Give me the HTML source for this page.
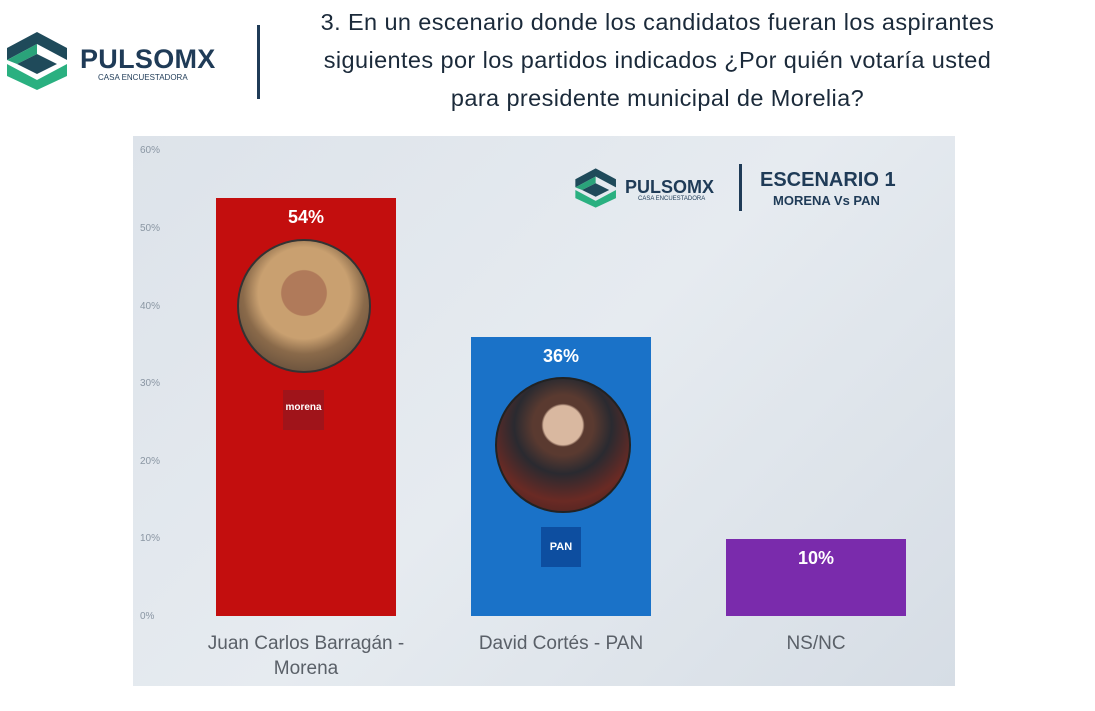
<!DOCTYPE html>
<html><head><meta charset="utf-8"><style>
body{margin:0;width:1095px;height:711px;background:#fff;position:relative;overflow:hidden;font-family:"Liberation Sans",sans-serif}
.a{position:absolute}
.t{color:#1b2a3a;font-size:23.5px;letter-spacing:0.4px;text-align:center;left:250px;width:815px;line-height:38px;top:3px}
.yl{font-size:10px;color:#8a96a3;left:140px}
.xl{font-size:19px;color:#5a6068;text-align:center;line-height:25px}
.pct{color:#fff;font-weight:bold;font-size:18px;text-align:center}
</style></head><body>
<svg class="a" style="left:5px;top:30px" width="65" height="62" viewBox="0 0 65 62">
<polygon points="32,2 62,18 62,30 32,14 2,30 2,18" fill="#1f4a5a"/>
<polygon points="2,30 32,14 32,24 12,34 2,30" fill="#2aa37a"/>
<polygon points="2,34 32,50 62,34 62,46 32,60 2,46" fill="#2ab080"/>
<polygon points="12,34 32,24 52,34 32,44" fill="#1f4a5a"/>
</svg>
<div class="a" style="left:80px;top:44px;font-size:27px;font-weight:bold;color:#1f3b57;letter-spacing:0.3px">PULSOMX</div>
<div class="a" style="left:98px;top:73px;font-size:8px;color:#1f3b57">CASA ENCUESTADORA</div>
<div class="a" style="left:257px;top:25px;width:3px;height:74px;background:#1f3b57"></div>
<div class="a t">3. En un escenario donde los candidatos fueran los aspirantes<br>siguientes por los partidos indicados ¿Por quién votaría usted<br>para presidente municipal de Morelia?</div>
<div class="a" style="left:133px;top:136px;width:822px;height:550px;background:linear-gradient(135deg,#dde3ea,#e6ebf0 50%,#d6dde5)"></div>
<div class="a yl" style="top:145px">60%</div>
<div class="a yl" style="top:223px">50%</div>
<div class="a yl" style="top:301px">40%</div>
<div class="a yl" style="top:378px">30%</div>
<div class="a yl" style="top:456px">20%</div>
<div class="a yl" style="top:533px">10%</div>
<div class="a yl" style="top:611px">0%</div>
<svg class="a" style="left:574px;top:166px" width="44" height="44" viewBox="0 0 65 62">
<polygon points="32,2 62,18 62,30 32,14 2,30 2,18" fill="#1f4a5a"/>
<polygon points="2,30 32,14 32,24 12,34 2,30" fill="#2aa37a"/>
<polygon points="2,34 32,50 62,34 62,46 32,60 2,46" fill="#2ab080"/>
<polygon points="12,34 32,24 52,34 32,44" fill="#1f4a5a"/>
</svg>
<div class="a" style="left:625px;top:177px;font-size:18px;font-weight:bold;color:#1f3b57">PULSOMX</div>
<div class="a" style="left:638px;top:196px;font-size:6px;color:#1f3b57">CASA ENCUESTADORA</div>
<div class="a" style="left:739px;top:164px;width:3px;height:47px;background:#1f3b57"></div>
<div class="a" style="left:760px;top:169px;font-size:20px;font-weight:bold;color:#1f3b57">ESCENARIO 1</div>
<div class="a" style="left:773px;top:193px;font-size:13px;font-weight:bold;color:#1f3b57">MORENA Vs PAN</div>
<div class="a" style="left:216px;top:198px;width:180px;height:418px;background:#c30e0e"></div>
<div class="a" style="left:471px;top:337px;width:180px;height:279px;background:#1a72c8"></div>
<div class="a" style="left:726px;top:539px;width:180px;height:77px;background:#7a2bac"></div>
<div class="a pct" style="left:216px;top:207px;width:180px">54%</div>
<div class="a pct" style="left:471px;top:346px;width:180px">36%</div>
<div class="a pct" style="left:726px;top:548px;width:180px">10%</div>
<div class="a" style="left:237px;top:239px;width:130px;height:130px;border-radius:50%;background:radial-gradient(circle at 50% 40%,#b07a5a 0 22%,#c9a070 23% 45%,#8a6a4a 60%,#4a3a30);border:2px solid #333"></div>
<div class="a" style="left:283px;top:390px;width:41px;height:40px;background:#a0141a;color:#fff;font-size:10px;font-weight:bold;text-align:center;line-height:36px">morena</div>
<div class="a" style="left:495px;top:377px;width:132px;height:132px;border-radius:50%;background:radial-gradient(circle at 50% 35%,#d9b8a0 0 18%,#5a3a30 20% 28%,#2a2a30 45%,#6a2a24 70%,#3a2020);border:2px solid #222"></div>
<div class="a" style="left:541px;top:527px;width:40px;height:40px;background:#0d4ea0;color:#fff;font-size:11px;font-weight:bold;text-align:center;line-height:40px">PAN</div>
<div class="a xl" style="left:186px;top:631px;width:240px">Juan Carlos Barragán -<br>Morena</div>
<div class="a xl" style="left:441px;top:631px;width:240px">David Cortés - PAN</div>
<div class="a xl" style="left:696px;top:631px;width:240px">NS/NC</div>
</body></html>
